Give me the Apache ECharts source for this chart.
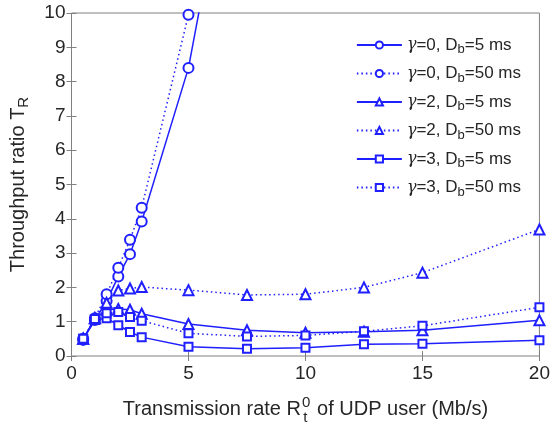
<!DOCTYPE html>
<html>
<head>
<meta charset="utf-8">
<script src="https://cdn.jsdelivr.net/npm/echarts@6/dist/echarts.min.js"></script>
<style>
  html, body { margin: 0; padding: 0; background: #fff; }
  #main { width: 553px; height: 430px; }
</style>
</head>
<body>
<div id="main"></div>
<script>
// transmission rate of UDP user (Mb/s)
const rates = [0.5, 1, 1.5, 2, 2.5, 3, 5, 7.5, 10, 12.5, 15, 20];

// throughput ratio
const g0d5 = [0.5, 1.05, 1.6, 2.32, 2.97, 3.92, 8.4, 17.5];
const g0d50 = [0.47, 1.1, 1.8, 2.57, 3.39, 4.32, 9.95];
const g2d5 = [0.5, 1.1, 1.35, 1.37, 1.35, 1.23, 0.93, 0.75, 0.68, 0.71, 0.75, 1.04];
const g2d50 = [0.5, 1.1, 1.55, 1.91, 1.97, 2.01, 1.92, 1.78, 1.8, 2.0, 2.43, 3.69];
const g3d5 = [0.5, 1.05, 1.1, 0.9, 0.7, 0.55, 0.27, 0.21, 0.24, 0.34, 0.36, 0.46];
const g3d50 = [0.5, 1.08, 1.25, 1.28, 1.14, 1.03, 0.66, 0.57, 0.6, 0.72, 0.88, 1.42];

const names = ["γ=0, Db=5 ms", "γ=0, Db=50 ms", "γ=2, Db=5 ms", "γ=2, Db=50 ms", "γ=3, Db=5 ms", "γ=3, Db=50 ms"];
const values = [g0d5, g0d50, g2d5, g2d50, g3d5, g3d50];
const symbols = ["emptyCircle", "emptyCircle", "emptyTriangle", "emptyTriangle", "emptyRect", "emptyRect"];
const lineTypes = ["solid", [1.5, 3], "solid", [1.5, 3], "solid", [1.5, 3]];

const blue = "#1f1fff";
const ink = "#262626";
const font = "Liberation Sans, Arial, sans-serif";

const series = names.map(function (n, i) {
  return {
    name: n,
    type: "line",
    data: values[i].map(function (v, k) { return [rates[k], v]; }),
    symbol: symbols[i],
    symbolSize: symbols[i] === "emptyRect" ? 8 : 10,
    clip: true,
    color: blue,
    lineStyle: { color: blue, width: 1.5, type: lineTypes[i] },
    itemStyle: { color: blue, borderWidth: 1.5 },
  };
});

const chart = echarts.init(document.getElementById("main"));
chart.setOption({
  animation: false,
  grid: {
    left: 69, right: 13, top: 13, bottom: 68,
    show: true, borderColor: "#808080", borderWidth: 1,
  },
  legend: {
    right: 27, top: 29,
    orient: "vertical",
    itemWidth: 45, itemHeight: 9, itemGap: 6.5,
    textStyle: {
      fontFamily: font, fontSize: 17, color: ink,
      rich: {
        g: { fontFamily: "DejaVu Serif, serif", fontStyle: "italic", fontSize: 16, color: ink, lineHeight: 20 },
        s: { fontFamily: font, fontSize: 13, color: ink, lineHeight: 20, padding: [9, 0, 0, 0] },
        t: { fontFamily: font, fontSize: 17, color: ink, lineHeight: 20 },
      },
    },
    formatter: function (n) {
      const m = n.match(/γ=(\d), Db=(\d+) ms/);
      return "{g|γ}{t|=" + m[1] + ", D}{s|b}{t|=" + m[2] + " ms}";
    },
    data: names,
  },
  xAxis: [
    {
      type: "value", min: 0, max: 20, interval: 5,
      name: "{a|Transmission rate R}{sup|0}{sub|t}{a| of UDP user (Mb/s)}",
      nameLocation: "middle", nameGap: 38,
      nameTextStyle: {
        rich: {
          a: { fontFamily: font, fontSize: 20, color: ink },
          sup: { fontFamily: font, fontSize: 15, color: ink, padding: [0, 0, 14, 1] },
          sub: { fontFamily: font, fontSize: 15, color: ink, padding: [16, 4, 0, -7] },
        },
      },
      axisLine: { show: false },
      axisTick: { inside: true, length: 5, lineStyle: { color: "#808080" } },
      axisLabel: { fontFamily: font, fontSize: 19, color: ink, margin: 8 },
      splitLine: { show: false },
    },
    {
      type: "value", min: 0, max: 20, interval: 5, position: "top",
      axisLine: { show: false },
      axisTick: { inside: true, length: 5, lineStyle: { color: "#808080" } },
      axisLabel: { show: false },
      splitLine: { show: false },
    },
  ],
  yAxis: [
    {
      type: "value", min: 0, max: 10, interval: 1,
      name: "{a|Throughput ratio T}{sub|R}",
      nameLocation: "middle", nameGap: 40,
      nameTextStyle: {
        rich: {
          a: { fontFamily: font, fontSize: 20, color: ink },
          sub: { fontFamily: font, fontSize: 15, color: ink, padding: [12, 0, 0, 0] },
        },
      },
      axisLine: { show: false },
      axisTick: { inside: true, length: 5, lineStyle: { color: "#808080" } },
      axisLabel: { fontFamily: font, fontSize: 19, color: ink, margin: 6 },
      splitLine: { show: false },
    },
    {
      type: "value", min: 0, max: 10, interval: 1, position: "right",
      axisLine: { show: false },
      axisTick: { inside: true, length: 5, lineStyle: { color: "#808080" } },
      axisLabel: { show: false },
      splitLine: { show: false },
    },
  ],
  series: series,
});
</script>
</body>
</html>
